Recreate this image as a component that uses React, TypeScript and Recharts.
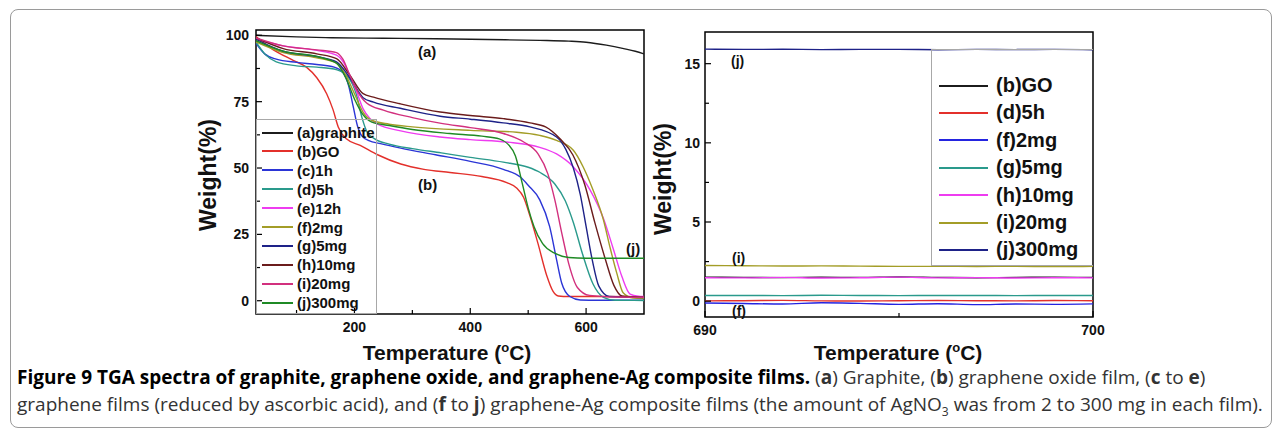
import { LineChart, Line, XAxis, YAxis, ReferenceArea } from "recharts";

type Pt = [number, number];

// left panel: [temperature °C, weight %]
const graphite: Pt[] = [[30, 100], [100, 99.4], [160, 99.1], [250, 98.9], [340, 98.7], [430, 98.4], [520, 98.1], [570, 97.8], [600, 97.4], [635, 96.3], [665, 95], [685, 94], [700, 93]];
const go: Pt[] = [[30, 99.5], [60, 94.5], [95, 90.5], [117, 88], [135, 84], [152, 78], [163, 72], [172, 65.5], [186, 61], [210, 58.5], [240, 55], [280, 51.5], [320, 49.5], [365, 48.3], [420, 46.8], [463, 44.5], [480, 42.5], [492, 39], [503, 32], [517, 21.5], [532, 9.5], [543, 3.5], [552, 1.8], [570, 1.6], [620, 1.6], [700, 1.5]];
const h1: Pt[] = [[30, 97], [45, 93], [65, 91], [100, 89.8], [135, 89], [165, 88], [180, 86], [190, 81], [198, 73], [205, 66], [213, 62], [225, 60.3], [245, 59.2], [280, 57.5], [340, 55], [400, 52.5], [457, 49.5], [487, 46.5], [500, 43.5], [520, 38], [537, 28], [549, 15.5], [558, 6.6], [572, 1.6], [590, 0.3], [620, 0.2], [700, 0.2]];
const h5: Pt[] = [[30, 97.5], [45, 93], [65, 90], [100, 88.5], [135, 88], [170, 87], [190, 84], [203, 78], [213, 69], [222, 63.5], [235, 61], [260, 59], [300, 57.3], [350, 55.7], [400, 54], [457, 52.2], [500, 50.3], [520, 48.4], [546, 44], [564, 37.7], [578, 29.5], [594, 17.5], [612, 6.3], [630, 1.3], [650, 0.2], [700, 0.1]];
const h12: Pt[] = [[30, 98.5], [77, 96], [135, 94.3], [169, 92.5], [181, 89.8], [192, 84.8], [204, 78.6], [215, 72.3], [227, 68.6], [240, 66.5], [280, 64], [348, 61.7], [400, 60.7], [463, 59.8], [520, 57.8], [549, 55.3], [578, 50.4], [607, 41.7], [630, 31], [647, 19.5], [662, 9], [676, 2.5], [690, 1.7], [700, 1.6]];
const mg2: Pt[] = [[30, 97.5], [77, 93.5], [135, 91.5], [169, 89.5], [185, 85], [200, 78], [215, 71], [230, 68], [260, 66.5], [300, 65.5], [400, 64.2], [480, 63.5], [520, 62.3], [549, 60.4], [578, 56.7], [595, 50.4], [612, 41.7], [630, 30.4], [641, 20.4], [653, 10.4], [664, 3], [681, 1], [700, 0.8]];
const mg5: Pt[] = [[30, 98.5], [77, 94], [135, 92], [169, 90], [192, 84], [215, 76.5], [233, 74.8], [279, 72.5], [348, 69.5], [400, 68.4], [457, 67], [503, 65.5], [549, 61.7], [565, 57], [578, 50], [590, 40], [600, 28], [611, 15], [622, 5.5], [640, 1.6], [700, 1.2]];
const mg10: Pt[] = [[30, 99], [77, 95], [135, 93], [169, 91.2], [192, 85], [215, 78], [233, 76.7], [279, 74.2], [348, 71.1], [400, 69.8], [457, 68.6], [503, 67], [530, 65.5], [555, 61], [577, 55], [598, 43.5], [615, 29.5], [633, 15.8], [648, 5.8], [662, 1.8], [700, 1.3]];
const mg20: Pt[] = [[30, 99], [77, 96], [135, 94.5], [169, 93.5], [180, 91], [192, 85], [205, 79], [221, 74.5], [250, 71.8], [300, 69], [350, 66.8], [400, 65.2], [457, 63], [493, 59.7], [517, 55.3], [534, 47.8], [546, 38], [558, 25.5], [570, 14], [585, 5], [606, 2], [650, 1.4], [700, 1.3]];
const mg300: Pt[] = [[30, 98], [77, 94], [135, 92], [169, 89.5], [185, 84], [200, 76], [215, 70], [230, 67.3], [260, 66], [300, 64.5], [365, 63], [420, 62], [450, 61], [465, 59], [478, 54.5], [490, 44], [500, 35], [510, 28], [525, 21.5], [545, 18], [570, 16.3], [600, 16], [700, 16]];

// right panel: close-up of 690–700 °C
const zoomT = [690, 691, 692, 693, 694, 695, 696, 697, 698, 699, 700];
const zGO = [1.52, 1.5, 1.49, 1.51, 1.5, 1.53, 1.5, 1.48, 1.5, 1.51, 1.5];
const z5h = [0.02, 0.03, 0.05, 0.02, 0.01, 0.03, 0.04, 0.03, 0.02, 0.04, 0.03];
const z2mg = [-0.12, -0.15, -0.18, -0.1, -0.14, -0.2, -0.16, -0.22, -0.18, -0.2, -0.17];
const z5mg = [0.36, 0.36, 0.35, 0.37, 0.36, 0.35, 0.36, 0.36, 0.35, 0.36, 0.36];
const z10mg = [1.48, 1.47, 1.5, 1.46, 1.48, 1.52, 1.47, 1.49, 1.46, 1.48, 1.47];
const z20mg = [2.25, 2.24, 2.22, 2.23, 2.21, 2.2, 2.2, 2.19, 2.2, 2.18, 2.2];
const z300mg = [15.92, 15.9, 15.91, 15.89, 15.9, 15.9, 15.88, 15.9, 15.89, 15.9, 15.88];

const leftXTicks = [100, 200, 300, 400, 500, 600];
const leftXLabels = [200, 400, 600];
const leftYTicks = [0, 12.5, 25, 37.5, 50, 62.5, 75, 87.5, 100];
const leftYLabels = [0, 25, 50, 75, 100];
const rightXTicks = [690, 695, 700];
const rightXLabels = [690, 700];
const rightYTicks = [0, 2.5, 5, 7.5, 10, 12.5, 15];
const rightYLabels = [0, 5, 10, 15];

const leftSeries = [
  { name: "(a)graphite", color: "#1c1c1c", pts: graphite },
  { name: "(b)GO", color: "#e3302b", pts: go },
  { name: "(c)1h", color: "#2b35d6", pts: h1 },
  { name: "(d)5h", color: "#2a9a8c", pts: h5 },
  { name: "(e)12h", color: "#ee3cf0", pts: h12 },
  { name: "(f)2mg", color: "#a39d27", pts: mg2 },
  { name: "(g)5mg", color: "#1e2288", pts: mg5 },
  { name: "(h)10mg", color: "#6b1c1c", pts: mg10 },
  { name: "(i)20mg", color: "#d2307e", pts: mg20 },
  { name: "(j)300mg", color: "#1f8a25", pts: mg300 },
];

const rightSeries = [
  { key: "go", name: "(b)GO", color: "#1c1c1c", vals: zGO },
  { key: "h5", name: "(d)5h", color: "#e3302b", vals: z5h },
  { key: "mg2", name: "(f)2mg", color: "#2424e0", vals: z2mg },
  { key: "mg5", name: "(g)5mg", color: "#2a9a8c", vals: z5mg },
  { key: "mg10", name: "(h)10mg", color: "#ee3cf0", vals: z10mg },
  { key: "mg20", name: "(i)20mg", color: "#a39d27", vals: z20mg },
  { key: "mg300", name: "(j)300mg", color: "#1e2288", vals: z300mg },
];

const zoomRows = zoomT.map((t, i) => {
  const row: Record<string, number> = { t };
  rightSeries.forEach((s) => (row[s.key] = s.vals[i]));
  return row;
});

const FONT = "'Liberation Sans', Arial, sans-serif";

const xTick = (labels: number[]) => (props: any) => {
  const { x, y, payload } = props;
  const major = labels.includes(payload.value);
  return (
    <g>
      <line x1={x} x2={x} y1={y} y2={y - (major ? 6 : 4)} stroke="#000" strokeWidth={1.2} />
      {major && (
        <text x={x} y={y + 18} textAnchor="middle" fontFamily={FONT} fontWeight="bold" fontSize={14} fill="#111">
          {payload.value}
        </text>
      )}
    </g>
  );
};

const yTick = (labels: number[], gap: number) => (props: any) => {
  const { x, y, payload } = props;
  const major = labels.includes(payload.value);
  return (
    <g>
      <line x1={x} x2={x + (major ? 6 : 4)} y1={y} y2={y} stroke="#000" strokeWidth={1.2} />
      {major && (
        <text x={x - gap} y={y + 5} textAnchor="end" fontFamily={FONT} fontWeight="bold" fontSize={14} fill="#111">
          {payload.value}
        </text>
      )}
    </g>
  );
};

const abs = (left: number, top: number, extra: React.CSSProperties = {}): React.CSSProperties => ({
  position: "absolute",
  left,
  top,
  fontFamily: FONT,
  fontWeight: "bold",
  color: "#111",
  whiteSpace: "nowrap",
  ...extra,
});

export default function App() {
  return (
    <div style={{ position: "absolute", left: 0, top: 0, width: 1282, height: 436, background: "#fff", overflow: "hidden" }}>
      <div style={{ position: "absolute", left: 10, top: 9, width: 1260, height: 417, border: "1px solid #9a9a9a", borderRadius: 8 }} />

      {/* left panel */}
      <div style={{ position: "absolute", left: 0, top: 0 }}>
        <LineChart width={660} height={340} margin={{ top: 30, right: 16, left: 196, bottom: 0 }}>
          <XAxis type="number" dataKey="t" domain={[30, 700]} allowDataOverflow ticks={leftXTicks} interval={0}
            tickSize={0} tickMargin={0} axisLine={false} tick={xTick(leftXLabels)} height={26} />
          <YAxis type="number" domain={[-5, 102]} allowDataOverflow ticks={leftYTicks} interval={0}
            tickSize={0} tickMargin={0} axisLine={false} tick={yTick(leftYLabels, 7)} width={60} />
          <ReferenceArea x1={30} x2={700} y1={-5} y2={102} fill="none" stroke="#000" strokeWidth={1.5} />
          {leftSeries.map((s) => (
            <Line key={s.name} name={s.name} data={s.pts.map(([t, w]) => ({ t, w }))} dataKey="w" type="monotone"
              stroke={s.color} strokeWidth={1.4} dot={false} isAnimationActive={false} />
          ))}
        </LineChart>
      </div>

      {/* right panel */}
      <div style={{ position: "absolute", left: 640, top: 0 }}>
        <LineChart width={470} height={344} data={zoomRows} margin={{ top: 32, right: 17, left: 5, bottom: 0 }}>
          <XAxis type="number" dataKey="t" domain={[690, 700]} ticks={rightXTicks} interval={0}
            tickSize={0} tickMargin={0} axisLine={false} tick={xTick(rightXLabels)} height={27} />
          <YAxis type="number" domain={[-1, 17]} allowDataOverflow ticks={rightYTicks} interval={0}
            tickSize={0} tickMargin={0} axisLine={false} tick={yTick(rightYLabels, 5)} width={60} />
          <ReferenceArea x1={690} x2={700} y1={-1} y2={17} fill="none" stroke="#000" strokeWidth={1.5} />
          {rightSeries.map((s) => (
            <Line key={s.key} name={s.name} dataKey={s.key} type="monotone" stroke={s.color} strokeWidth={1.4}
              dot={false} isAnimationActive={false} />
          ))}
        </LineChart>
      </div>

      {/* left legend */}
      <div style={{ position: "absolute", left: 256, top: 119, width: 121, height: 195, border: "1px solid #a8a8a8", boxSizing: "border-box" }} />
      {leftSeries.map((s, i) => (
        <div key={s.name} style={abs(262, 123.5 + i * 18.9, { display: "flex", alignItems: "center", fontSize: 15, height: 18 })}>
          <span style={{ width: 31, height: 0, borderTop: `2px solid ${s.color}`, marginRight: 4 }} />
          {s.name}
        </div>
      ))}

      {/* right legend */}
      <div style={{ position: "absolute", left: 931, top: 49, width: 162, height: 217, border: "1px solid #a8a8a8", borderRight: "none", boxSizing: "border-box" }} />
      {rightSeries.map((s, i) => (
        <div key={s.key} style={abs(939, 73.5 + i * 27.4, { display: "flex", alignItems: "center", fontSize: 20, height: 24 })}>
          <span style={{ width: 49, height: 0, borderTop: `2px solid ${s.color}`, marginRight: 8 }} />
          {s.name}
        </div>
      ))}

      {/* annotations */}
      <div style={abs(418, 43, { fontSize: 15 })}>(a)</div>
      <div style={abs(418, 176, { fontSize: 15 })}>(b)</div>
      <div style={abs(626, 240, { fontSize: 15 })}>(j)</div>
      <div style={abs(731, 53, { fontSize: 14 })}>(j)</div>
      <div style={abs(732, 250, { fontSize: 14 })}>(i)</div>
      <div style={abs(732, 303, { fontSize: 14 })}>(f)</div>

      {/* axis titles */}
      <div style={abs(208, 175, { fontSize: 23, transform: "translate(-50%, -50%) rotate(-90deg)" })}>Weight(%)</div>
      <div style={abs(663, 179, { fontSize: 23, transform: "translate(-50%, -50%) rotate(-90deg)" })}>Weight(%)</div>
      <div style={abs(447, 352, { fontSize: 21, transform: "translate(-50%, -50%)" })}>
        Temperature (<sup style={{ fontSize: 13 }}>o</sup>C)
      </div>
      <div style={abs(898, 352, { fontSize: 21, transform: "translate(-50%, -50%)" })}>
        Temperature (<sup style={{ fontSize: 13 }}>o</sup>C)
      </div>

      {/* caption */}
      <div style={{ position: "absolute", left: 17, top: 364, fontFamily: "'Open Sans', 'Noto Sans', sans-serif", fontSize: 19, color: "#333", whiteSpace: "nowrap", lineHeight: "27px" }}>
        <div>
          <b style={{ color: "#000" }}>Figure 9 TGA spectra of graphite, graphene oxide, and graphene-Ag composite films.</b> (<b>a</b>) Graphite, (<b>b</b>) graphene oxide film, (<b>c</b> to <b>e</b>)
        </div>
        <div>
          graphene films (reduced by ascorbic acid), and (<b>f</b> to <b>j</b>) graphene-Ag composite films (the amount of AgNO<sub style={{ fontSize: 12 }}>3</sub> was from 2 to 300 mg in each film).
        </div>
      </div>
    </div>
  );
}
